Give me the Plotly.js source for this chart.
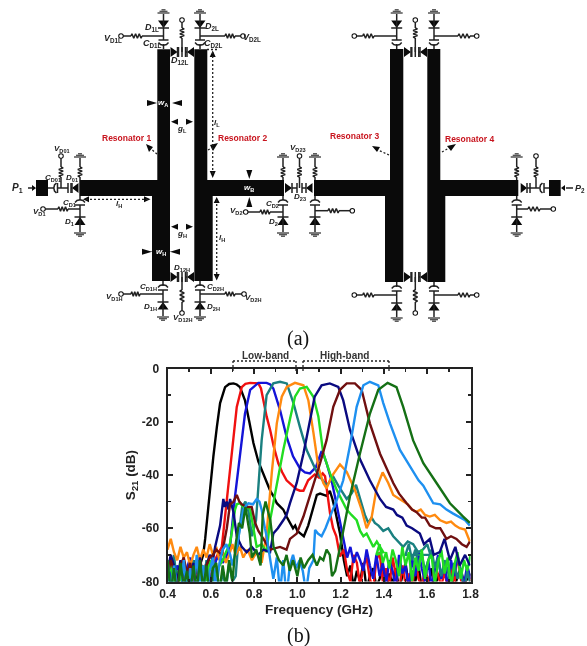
<!DOCTYPE html>
<html><head><meta charset="utf-8">
<script src="https://cdn.plot.ly/plotly-3.0.1.min.js"></script>
<style>html,body{margin:0;padding:0;background:#fff}#c{width:587px;height:646px;filter:blur(0.4px)}</style>
</head><body><div id="c"></div>
<script>
// ---------- measured chart data (frequency in GHz, S21 in dB) ----------
const noiseLeftF=[.40,.415,.43,.445,.46,.475,.49,.505,.52,.535,.55,.565,.58,.595,.61,.625,.64,.655,.67,.685,.70];
const noiseRightF=[1.215,1.23,1.245,1.26,1.275,1.29,1.305,1.32,1.335,1.35,1.365,1.38,1.395,1.41,1.425,1.44,1.455,1.47,1.485,1.5,1.515,1.53,1.545,1.56,1.575,1.59,1.605,1.62,1.635,1.65,1.665,1.68,1.695,1.71,1.725,1.74,1.755,1.77,1.785,1.8];

const blackLeft=[-74,-80,-76,-82,-73,-78,-81,-75,-72,-79,-74,-70];
const blackF=[.574,.592,.612,.628,.643,.666,.685,.705,.72,.735,.758,.778,.797,.82,.843,.86,.875,.89,.905,.92,.935,.95,.965,.98,.99,1.0,1.015,1.03,1.05,1.07,1.09,1.105,1.12,1.135,1.15,1.162,1.174,1.197];
const blackDb=[-64,-49,-33,-22,-13,-7,-5.8,-5.6,-6,-7,-12,-20,-28,-35,-40,-43,-46,-48,-50.6,-52,-53,-55.6,-58,-60,-59,-61,-62,-63,-59,-53,-47.5,-47,-47.3,-47.8,-46,-49,-53,-62];
const blackRight=[-72,-78,-74,-82,-76,-80,-73,-83,-78,-75,-82,-79,-74,-84,-77,-81,-75,-83,-78,-73,-82,-76,-80,-74,-83,-78,-81,-75,-84,-77,-79,-74,-82,-76,-83,-78,-75,-81,-79,-77];

const redLeft=[-76,-81,-74,-79,-83,-75,-78,-73,-80,-76,-72,-78,-74,-79,-75,-71];
const redF=[.651,.674,.697,.72,.743,.76,.782,.82,.832,.843,.858,.874,.89,.912,.93,.95,.975,.997,1.012,1.028,1.05,1.065,1.08,1.1,1.117,1.128,1.135,1.151,1.165,1.18,1.197];
const redDb=[-67,-49,-33,-14.4,-7,-5.8,-5.4,-5.6,-7.5,-12,-18,-23,-29,-35.6,-39,-42,-44,-45.4,-45.9,-45.9,-42,-41,-39.8,-41,-39.4,-40.5,-44.4,-54.4,-60,-63,-70.6];
const redRight=[-68,-76,-80,-70,-73,-82,-74,-71,-79,-83,-72,-69,-80,-75,-82,-71,-78,-84,-74,-81,-77,-83,-72,-79,-82,-75,-80,-84,-73,-78,-82,-76,-83,-74,-81,-70,-79,-84,-75,-80];

const blueLeft=[-72,-78,-82,-74,-76,-83,-75,-71,-79,-82,-74,-77,-73,-80,-76,-72,-70,-73,-71];
const blueF=[.689,.712,.735,.758,.782,.82,.858,.875,.889,.92,.95,.98,1.012,1.035,1.058,1.086,1.112,1.12,1.135,1.158,1.18,1.205,1.22];
const blueDb=[-67,-48,-33,-17,-8,-5.4,-5.4,-6,-7.5,-15.6,-25.6,-33,-37.5,-39,-39.4,-37,-31,-32,-35.6,-42,-50.6,-61,-67];
const blueRight=[-64,-71,-67,-73,-69,-72,-76,-68,-74,-79,-70,-78,-73,-81,-72,-76,-82,-70,-77,-74,-83,-71,-78,-69,-75,-80,-72,-82,-76,-70,-79,-73,-83,-72,-78,-70,-76,-81,-74,-79];

const tealLeft=[-74,-84,-70,-82,-73,-86,-76,-82,-72,-84,-75,-83,-72,-86,-80,-74,-85,-76,-83,-73,-80];
const tealF=[.715,.73,.745,.76,.775,.79,.809,.835,.858,.889,.92,.951,.982,1.012,1.043,1.089,1.135,1.166,1.189,1.228,1.251,1.271,1.297,1.312,1.328,1.343,1.358,1.375,1.397,1.42,1.443,1.465,1.489,1.51,1.535,1.558,1.58,1.6,1.615];
const tealDb=[-78,-62,-52,-50,-54,-63,-57,-27,-10,-5.6,-5,-5.6,-13,-22,-30.6,-38.8,-44,-40.6,-44,-49,-46.9,-43.7,-50.6,-55,-58,-56,-58,-59,-61,-60,-63,-65,-67,-65,-66,-69,-68,-66,-70];
const tealRight=[-70,-66,-72,-68,-74,-70,-76,-72,-68,-75,-71,-78,-72,-76,-82,-73,-79,-75,-84,-76,-81];

const orangeLeft=[-68,-64,-69,-72,-67,-71,-69,-74,-70,-67,-72,-68,-71,-66,-70,-67,-72,-69,-73,-70,-66];
const orangeF=[.715,.735,.75,.77,.79,.812,.835,.858,.882,.905,.928,.951,.989,1.028,1.051,1.074,1.097,1.12,1.135,1.158,1.197,1.228,1.266,1.297,1.32,1.343,1.366,1.394,1.42,1.443,1.47,1.489,1.51,1.53,1.55,1.57,1.59,1.612,1.635,1.66,1.689,1.71,1.73,1.75,1.775,1.797];
const orangeDb=[-70,-67,-71,-68,-72,-69,-73,-62,-39,-20.6,-10.6,-6.9,-5.4,-6.3,-12,-24,-37,-43,-45,-40.6,-36,-38.8,-45.6,-53,-60,-56,-45,-39,-43,-47.5,-49,-50,-51,-53,-53.8,-53,-55,-55.6,-55,-57,-58,-57.5,-59,-60,-60.5,-65];

const limeLeft=[-78,-74,-82,-76,-80,-73,-78,-83,-75,-72,-79,-74,-80,-72,-76,-78,-74,-72,-69];
const limeF=[.689,.70,.712,.72,.735,.75,.758,.77,.782,.797,.812,.835,.858,.874,.905,.935,.966,.989,1.012,1.043,1.074,1.097,1.12,1.151,1.182,1.228,1.25,1.274,1.29,1.305,1.32,1.351,1.367,1.397];
const limeDb=[-65.6,-60,-53,-51,-50.6,-52,-53,-52,-53,-60,-67,-66,-69,-57,-43,-30.6,-19,-10.6,-7.5,-6.9,-10.6,-18,-32,-39.4,-45.6,-53,-55,-57,-61,-63,-62,-67,-65,-69];
const limeRight=[-70,-66,-73,-69,-75,-68,-72,-78,-67,-74,-69,-80,-71,-76,-68,-79,-72,-70,-81,-73,-68,-77,-71,-82,-74,-69,-79,-72,-76,-70];

const navyLeft=[-76,-70,-74,-80,-72,-78,-75,-82,-73,-77,-71,-79,-74,-70,-72];
const navyF=[.62,.643,.658,.665,.674,.682,.689,.705,.72,.743,.766,.789,.82,.843,.874,.889,.91,.935,.95,.966,.997,1.028,1.058,1.08,1.112,1.15,1.189,1.212,1.243,1.289,1.335,1.355,1.382,1.41,1.443,1.46,1.485,1.505,1.53,1.566,1.585,1.612,1.63,1.658,1.68,1.705,1.73,1.75,1.775,1.797];
const navyDb=[-67,-59,-49,-52,-50,-53,-49,-54,-63,-67,-69,-67,-70,-68,-69,-62,-60,-57,-55,-50.6,-43,-32,-19.4,-10.6,-6.3,-5.6,-6.9,-12,-23,-34,-42,-45,-49,-52,-53,-55,-56,-59,-60,-62,-66,-64,-70,-69,-64,-72,-67,-74,-70,-74];

const maroonLeft=[-78,-72,-76,-82,-74,-71,-77,-73,-80,-75,-72,-78,-74,-71,-70,-68];
const maroonF=[.651,.674,.689,.705,.72,.732,.743,.766,.789,.805,.82,.843,.874,.92,.95,.966,.997,1.028,1.058,1.082,1.105,1.135,1.166,1.197,1.228,1.266,1.297,1.335,1.36,1.382,1.443,1.47,1.505,1.53,1.551,1.575,1.59,1.612,1.64,1.66,1.689,1.71,1.735,1.76,1.782,1.797];
const maroonDb=[-70,-60,-51,-50,-47.5,-50,-51,-52,-52,-58,-61,-64,-68,-67,-68,-64,-62,-55.6,-48,-42,-35.6,-26.9,-14.4,-8,-5.6,-5.6,-8,-20.6,-27,-32,-43,-47,-50.6,-53,-54,-56,-56,-59,-60,-60,-64,-63,-64,-66,-67,-65];

const skyLeft=[-72,-84,-74,-82,-86,-72,-84,-75,-85,-70,-82,-74,-86,-76,-71,-84,-73,-68];
const skyF=[.672,.69,.70,.72,.735,.751,.763,.774,.795,.812,.825,.835,.85,.858,.875,.889,.905,.92,.935,.95,.965,.98,.995,1.01,1.025,1.04,1.055,1.074,1.082,1.095,1.112,1.13,1.151,1.182,1.212,1.243,1.274,1.305,1.335,1.374,1.397,1.428,1.474,1.52,1.56,1.582,1.61,1.628,1.66,1.689,1.72,1.751,1.775,1.797];
const skyDb=[-66,-70,-74,-67,-60,-53,-51.5,-50.6,-51,-49,-50,-53,-60,-63,-72,-79,-71,-84,-72,-86,-74,-70,-75,-72,-76,-84,-75,-72,-60.6,-62,-63,-60,-55.6,-49.4,-42,-29,-14.4,-6.3,-5,-6.3,-13,-20.6,-30.6,-36.9,-42,-44,-48,-50.6,-51,-53,-54.5,-56,-57,-59];

const greenLeft=[-72,-84,-75,-86,-73,-82,-76,-85,-74,-84,-72,-83,-74,-86,-75,-73,-84,-74,-82,-72,-80];
const greenF=[.715,.73,.745,.76,.78,.79,.81,.83,.84,.853,.875,.89,.915,.935,.95,.965,.98,1.0,1.015,1.03,1.05,1.07,1.09,1.105,1.12,1.135,1.15,1.16,1.175,1.2,1.212,1.243,1.289,1.335,1.374,1.417,1.458,1.489,1.535,1.582,1.643,1.705,1.766,1.797];
const greenDb=[-66,-58,-60,-52,-62,-71,-68,-74,-55,-50,-57,-67,-72,-74,-70,-76,-72,-78,-71,-75,-72,-70,-74,-71,-72,-68,-70,-78,-76,-66,-60.6,-48,-32,-17,-8,-5.4,-7,-14.4,-27,-35.6,-43,-50.6,-55.6,-58];

const seriesNames=['black','red','blue','teal','orange','lime','navy','maroon','sky','green'];
const seriesColors=['#000000','#f01010','#1414d8','#1a8080','#ff8a10','#22dd22','#0a0a80','#701010','#1e90f0','#157015'];
const seriesParts=[
 [blackLeft,blackF,blackDb,blackRight],[redLeft,redF,redDb,redRight],[blueLeft,blueF,blueDb,blueRight],
 [tealLeft,tealF,tealDb,tealRight],[orangeLeft,orangeF,orangeDb,[]],[limeLeft,limeF,limeDb,limeRight],
 [navyLeft,navyF,navyDb,[]],[maroonLeft,maroonF,maroonDb,[]],[skyLeft,skyF,skyDb,[]],[greenLeft,greenF,greenDb,[]]];
const xTickVals=[0.4,0.6,0.8,1.0,1.2,1.4,1.6,1.8];
const yTickVals=[0,-20,-40,-60,-80];

const traces=seriesParts.map((p,i)=>({
  type:'scatter',mode:'lines',name:seriesNames[i],xaxis:'x',yaxis:'y',
  x:noiseLeftF.slice(0,p[0].length).concat(p[1],p[3].length?noiseRightF.slice(-p[3].length):[]),
  y:p[0].concat(p[2],p[3]),
  line:{color:seriesColors[i],width:2.4},hoverinfo:'skip'}));

// ---------- schematic, drawn on a page-sized second pair of axes ----------
const W={x:[],y:[]},F={x:[],y:[]},G={x:[],y:[]},D={x:[],y:[]},O={x:[],y:[]};
const add=(s,pts)=>{pts.forEach(p=>{s.x.push(p[0]);s.y.push(p[1])});s.x.push(null);s.y.push(null)};
const rect=(a,b,c,d)=>add(F,[[a,c],[b,c],[b,d],[a,d],[a,c]]);
const wire=(...p)=>add(W,p);
const triV=(x,y0,y1,hw)=>add(F,[[x-hw,y0],[x+hw,y0],[x,y1],[x-hw,y0]]);
const triH=(x0,x1,y,hw)=>add(F,[[x0,y-hw],[x0,y+hw],[x1,y],[x0,y-hw]]);
function resH(a,b,y){const n=6,p=[];p.push([a,y]);for(let i=0;i<n;i++)p.push([a+(b-a)*(i+.5)/n,y+(i%2?2.2:-2.2)]);p.push([b,y]);add(W,p)}
function resV(x,a,b){const n=6,p=[];p.push([x,a]);for(let i=0;i<n;i++)p.push([x+(i%2?2.2:-2.2),a+(b-a)*(i+.5)/n]);p.push([x,b]);add(W,p)}
function ground(x,y,d){[6,4,2].forEach((h,i)=>add(G,[[x-h,y+d*i*1.6],[x+h,y+d*i*1.6]]))}
function curveV(x,y,d){add(W,[[x-5,y-d*1.5],[x-3,y+d*.5],[x,y+d*1.2],[x+3,y+d*.5],[x+5,y-d*1.5]])}
function curveH(x,y,d){add(W,[[x-d*1.5,y-5],[x+d*.5,y-3],[x+d*1.2,y],[x+d*.5,y+3],[x-d*1.5,y+5]])}
const circle=(x,y)=>{O.x.push(x);O.y.push(y)};
function stack(x,e,d,bx,ra,rb){
  wire([x,e],[x,e+d*5]);curveV(x,e+d*5,-d);
  wire([x-5,e+d*9],[x+5,e+d*9]);wire([x,e+d*9],[x,e+d*35]);
  wire([x-5.5,e+d*21],[x+5.5,e+d*21]);triV(x,e+d*28.5,e+d*21,5.5);
  ground(x,e+d*36,d);
  const by=e+d*13;
  wire([x,by],[ra,by]);wire([rb,by],[bx,by]);resH(Math.min(ra,rb),Math.max(ra,rb),by);circle(bx,by);
}
stack(163.5,49,-1,121,142,131);stack(200,49,-1,243,225,235);
stack(163,281,1,121,140,131);stack(200,281,1,244,225,235);
stack(396.7,49,-1,354.3,374,362.7);stack(434,49,-1,476.7,458,470);
stack(396.7,282,1,354.3,374,362.7);stack(434,282,1,476.7,458,470);
function couple(cx,y,a,b,ra,rb,cy){
  triH(a,a+7,y,5);wire([a+7,y-5],[a+7,y+5]);
  triH(b,b-7,y,5);wire([b-7,y-5],[b-7,y+5]);
  wire([a+7,y],[cx-3.5,y]);wire([cx+3.5,y],[b-7,y]);
  wire([cx-3.5,y-5],[cx-3.5,y+5]);wire([cx+3.5,y-5],[cx+3.5,y+5]);wire([cx,y-5],[cx,y+5]);
  wire([cx,y],[cx,ra]);resV(cx,ra,rb);wire([cx,rb],[cx,cy]);circle(cx,cy);
}
couple(182,52,170.5,194,38,28,20);couple(182,277,170.5,194,290,302,313);
couple(415.3,52,404,427,38,28,20);couple(415.3,277,404,427,290,302,313);
function stub(x,bx,ra,rb,by){
  wire([x,180],[x,177]);resV(x,177,167);wire([x,167],[x,158]);ground(x,157,-1);
  wire([x,196],[x,200]);curveV(x,201,-1);wire([x-5,205],[x+5,205]);wire([x,205],[x,232]);
  wire([x-5.5,217],[x+5.5,217]);triV(x,225,217,5.5);ground(x,233,1);
  wire([x,by],[ra,by]);wire([rb,by],[bx,by]);resH(Math.min(ra,rb),Math.max(ra,rb),by);circle(bx,by);
}
stub(80,43,68,58,209);stub(283,245.7,270,260,212);stub(315,352.3,328,339,210.7);stub(516.7,553.3,528,540,209);
const Y=188;
wire([48,Y],[54,Y]);curveH(55,Y,-1);wire([57.5,Y-5],[57.5,Y+5]);wire([57.5,Y],[68,Y]);
wire([68,Y-5],[68,Y+5]);wire([71,Y-5],[71,Y+5]);wire([71,Y],[72,Y]);
triH(78.5,72,Y,5);wire([72,Y-5],[72,Y+5]);
wire([61,Y],[61,177]);resV(61,177,167);wire([61,167],[61,156]);circle(61,156);
triH(285,292,Y,5);wire([292,Y-5],[292,Y+5]);wire([292,Y],[297,Y]);
wire([297,Y-5],[297,Y+5]);wire([302,Y-5],[302,Y+5]);wire([302,Y],[306,Y]);
wire([299.5,Y],[299.5,177]);resV(299.5,177,167);wire([299.5,167],[299.5,156]);circle(299.5,156);
triH(312.5,306,Y,5);wire([306,Y-5],[306,Y+5]);
triH(520.7,527,Y,5);wire([527,Y-5],[527,Y+5]);wire([527,Y],[530,Y]);wire([530,Y-5],[530,Y+5]);
wire([530,Y],[539,Y]);curveH(541,Y,-1);wire([544,Y-5],[544,Y+5]);wire([544,Y],[549,Y]);
wire([536,Y],[536,177]);resV(536,177,167);wire([536,167],[536,156]);circle(536,156);
// microstrip bodies (feed rectangles run through the junctions)
rect(157.3,170,49.3,180);rect(79.3,170,180,196);rect(152,170,196,281);
rect(194.3,207.3,49.3,180);rect(194.3,284,180,196);rect(194.3,212.7,196,281);
rect(390,403.3,49,180);rect(314,403.3,180,196);rect(385,403.3,196,282);
rect(427.3,440.3,49,180);rect(427.3,518.3,180,196);rect(427.3,445.3,196,282);
rect(36,48,180,196);rect(549,560.7,180,196);
wire([28,Y],[33,Y]);triH(32,36,Y,3);wire([566,Y],[573,Y]);triH(565,561,Y,3);
add(D,[[212.7,52],[212.7,176]]);add(D,[[207,49.5],[218,49.5]]);triV(212.7,57,50.5,3);triV(212.7,171,178,3);
add(D,[[216.7,200],[216.7,278]]);triV(216.7,203,197,3);triV(216.7,274,280.5,3);
add(D,[[86,199.3],[148,199.3]]);triH(89,83,199.3,3);triH(144,150.5,199.3,3);
triH(147,157,103,3);triH(182,172,103,3);triH(142,152,251.7,3);triH(180,170,251.7,3);
triH(178,171,121.7,3);triH(186,193,121.7,3);
triH(178,171,226.7,3);triH(186,193,226.7,3);
triV(249.3,170,179,3);triV(249.3,207,197,3);
add(D,[[157,154],[150,148]]);add(F,[[146,144],[153,147],[149,152],[146,144]]);
add(D,[[208,150],[213,147]]);add(F,[[218,143],[213,151],[210,145],[218,143]]);
add(D,[[389,155],[378,150]]);add(F,[[372,146],[380,147],[377,152],[372,146]]);
add(D,[[442,152],[449,148]]);add(F,[[456,144],[451,151],[447,146],[456,144]]);
add(D,[[233,361],[296,361]]);add(D,[[233,361],[233,373]]);add(D,[[296,361],[296,373]]);
add(D,[[303,361],[389,361]]);add(D,[[303,361],[303,372]]);add(D,[[389,361],[389,372]]);

const on={xaxis:'x2',yaxis:'y2',hoverinfo:'skip',type:'scatter'};
traces.push(Object.assign({mode:'lines',x:F.x,y:F.y,fill:'toself',fillcolor:'#0a0a0a',line:{width:0,color:'#0a0a0a'}},on));
traces.push(Object.assign({mode:'lines',x:W.x,y:W.y,line:{width:1.5,color:'#222'}},on));
traces.push(Object.assign({mode:'lines',x:G.x,y:G.y,line:{width:1.5,color:'#555'}},on));
traces.push(Object.assign({mode:'lines',x:D.x,y:D.y,line:{width:1.3,color:'#222',dash:'2px,2px'}},on));
traces.push(Object.assign({mode:'markers',x:O.x,y:O.y,marker:{size:4.5,color:'#fff',line:{width:1.1,color:'#111'}}},on));

const lab=(t,x,y,o={})=>({text:t,x:x,y:y,xref:'x2',yref:'y2',showarrow:false,xanchor:'center',yanchor:'middle',
  font:{family:'"Liberation Sans",Arial,sans-serif',size:o.s||8,color:o.c||'#222'}});
const it=(a,b)=>'<b><i>'+a+'</i><sub>'+b+'</sub></b>';
const red='#c8141e';
const annotations=[
 lab(it('D','1L'),152,27,{s:9}),lab(it('V','D1L'),113,38,{s:9}),lab(it('C','D1L'),152,43,{s:9}),lab(it('D','2L'),212,26,{s:9}),lab(it('V','D2L'),252,37,{s:9}),lab(it('C','D2L'),213,43,{s:9}),
 lab(it('D','12L'),180,60,{s:9}),lab(it('w','A'),163,103,{c:'#fff'}),lab(it('l','L'),217,123),lab(it('g','L'),182,129),
 lab(it('V','D01'),62,149),lab(it('C','D01'),53,178),lab(it('D','01'),72,178),lab(it('P','1'),17,188,{s:10}),
 lab(it('l','H'),119,204),lab(it('C','D1'),69,203),lab(it('V','D1'),39,212),lab(it('D','1'),69,222),
 lab(it('V','D2'),236,211),lab(it('C','D2'),272,204),lab(it('D','2'),273,222),lab(it('w','B'),249,188,{c:'#fff'}),
 lab(it('g','H'),182,234),lab(it('l','H'),222,238),lab(it('w','H'),161,252,{c:'#fff'}),lab(it('D','12H'),182,268),
 lab(it('C','D1H'),148,287),lab(it('V','D1H'),114,297),lab(it('D','1H'),150,307),lab(it('C','D2H'),215,287),
 lab(it('V','D2H'),253,298),lab(it('D','2H'),213,307),lab(it('V','D12H'),183,318),
 lab(it('V','D23'),298,148),lab(it('D','23'),300,197),lab(it('P','2'),580,188,{s:9}),
 lab('<b>Resonator 1</b>',126.7,138,{c:red,s:8.5}),lab('<b>Resonator 2</b>',242.7,138,{c:red,s:8.5}),
 lab('<b>Resonator 3</b>',354,136,{c:red,s:8.5}),lab('<b>Resonator 4</b>',469,139,{c:red,s:8.5}),
 lab('<b>Low-band</b>',265,355,{s:10,c:'#333'}),lab('<b>High-band</b>',344,355,{s:10,c:'#333'}),
];
const serif=(t,x,y)=>{const a=lab(t,x,y);a.font={family:'"Liberation Serif","Times New Roman",serif',size:20,color:'#111'};return a};
annotations.push(serif('(a)',298,338),serif('(b)',298,635));

const tickFont={family:'"Liberation Sans",Arial,sans-serif',size:12,color:'#222'};
const axisBase={showline:true,mirror:'ticks',linecolor:'#222',linewidth:2,ticks:'inside',ticklen:5,tickwidth:2,tickcolor:'#222',
  zeroline:false,showgrid:false,tickfont:tickFont};
const layout={width:587,height:646,margin:{l:0,r:0,t:0,b:0},paper_bgcolor:'#fff',plot_bgcolor:'rgba(0,0,0,0)',showlegend:false,
  xaxis:Object.assign({},axisBase,{domain:[167.5/587,470.5/587],range:[0.4,1.8],anchor:'y',tickvals:xTickVals,ticktext:xTickVals.map(v=>'<b>'+v.toFixed(1)+'</b>'),
    minor:{dtick:0.1,ticks:'inside',ticklen:3,tickwidth:1.5,tickcolor:'#222'},
    title:{text:'<b>Frequency (GHz)</b>',standoff:5,font:{family:tickFont.family,size:13.5,color:'#222'}}}),
  yaxis:Object.assign({},axisBase,{domain:[1-581.5/646,1-368.5/646],range:[-80,0],anchor:'x',tickvals:yTickVals,ticktext:yTickVals.map(v=>'<b>'+v+'</b>'),ticklabelstandoff:4,
    minor:{dtick:10,ticks:'inside',ticklen:3,tickwidth:1.5,tickcolor:'#222'},
    title:{text:'<b>S<sub>21</sub> (dB)</b>',standoff:3,font:{family:tickFont.family,size:13.5,color:'#222'}}}),
  xaxis2:{domain:[0,1],range:[0,587],visible:false,anchor:'y2',fixedrange:true},
  yaxis2:{domain:[0,1],range:[646,0],visible:false,anchor:'x2',fixedrange:true},
  annotations:annotations};
Plotly.newPlot('c',traces,layout,{staticPlot:true,displayModeBar:false});
</script></body></html>
